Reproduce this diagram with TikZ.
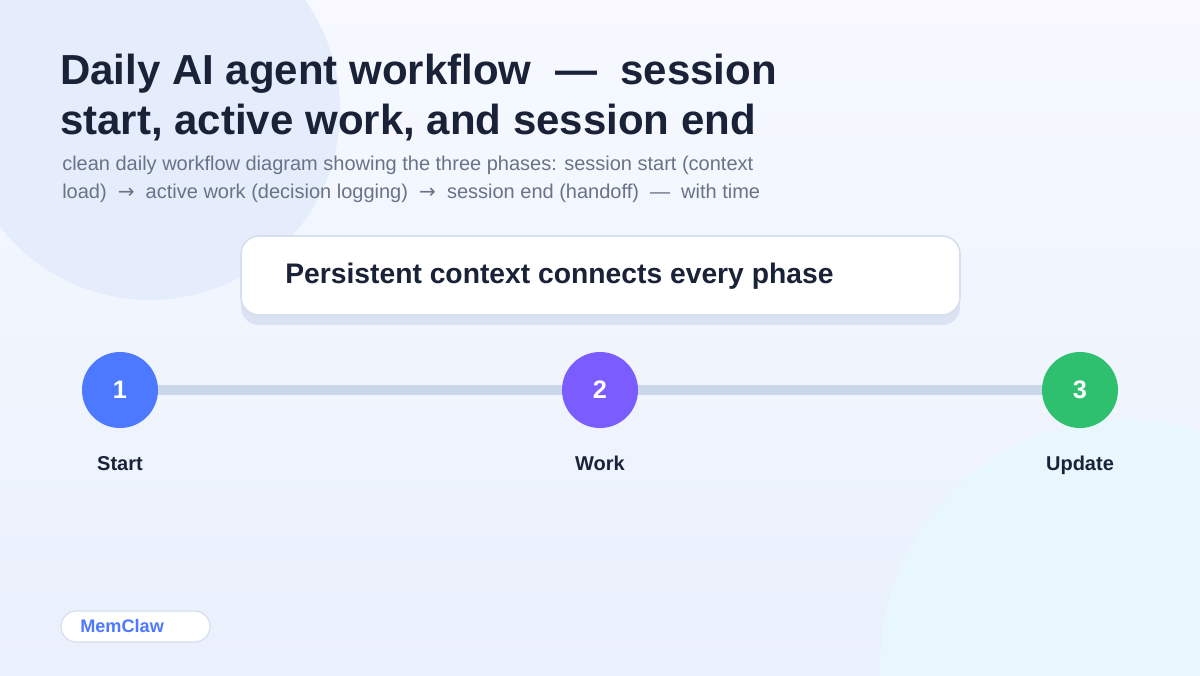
\documentclass[tikz,border=0pt]{standalone}
\usepackage{fontspec}
\setmainfont{Liberation Sans}
\newfontfamily\arrowfont{DejaVu Sans}
\definecolor{bgtop}{HTML}{F6F9FF}
\definecolor{bgbot}{HTML}{EAF0FC}
\definecolor{blobA}{HTML}{E5EDFD}
\definecolor{blobB}{HTML}{E8F7FE}
\definecolor{ink}{HTML}{1A2238}
\definecolor{subink}{HTML}{687385}
\definecolor{boxline}{HTML}{D5DFEE}
\definecolor{shadowc}{HTML}{DAE3F2}
\definecolor{trackc}{HTML}{CAD7E9}
\definecolor{cblue}{HTML}{4C79FF}
\definecolor{cpurple}{HTML}{7B5CFF}
\definecolor{cgreen}{HTML}{2EC06F}
\newcommand{\myarrow}{{\arrowfont\fontsize{15}{18}\selectfont →}}
\tikzset{
  phase/.style={circle,minimum size=57pt,inner sep=0pt,text=white,font=\bfseries\fontsize{19}{21}\selectfont},
  phaselabel/.style={text=ink,font=\bfseries\fontsize{15}{17}\selectfont,anchor=base},
  titletext/.style={anchor=base west,inner sep=0pt,text=ink,font=\bfseries\fontsize{31.5}{38}\selectfont},
  subtext/.style={anchor=base west,inner sep=0pt,text=subink,font=\fontsize{15}{18}\selectfont},
}
\begin{document}
\begin{tikzpicture}[x=0.75pt,y=-0.75pt]
\useasboundingbox (0,0) rectangle (1200,675);
\shade[top color=bgtop,bottom color=bgbot] (0,0) rectangle (1200,675);
\begin{scope}
\clip (0,0) rectangle (1200,675);
\fill[blobA] (150,110) circle (190);
\fill[blobB] (1125,665) circle (245);
\end{scope}
% title
\node[titletext] (t1) at (60,84) {Daily AI agent workflow \ — \ session};
\node[titletext] (t2) at (60,134) {start, active work, and session end};
\node[subtext] (s1) at (62,170) {clean daily workflow diagram showing the three phases: session start (context};
\node[subtext] (s2) at (62,198) {load) \ \myarrow\ \ active work (decision logging) \ \myarrow\ \ session end (handoff) \ — \ with time};
% callout box
\fill[shadowc,rounded corners=13.5pt] (241,246) rectangle (960,325);
\draw[boxline,fill=white,line width=1.2pt,rounded corners=13.5pt] (241,236) rectangle (960,315);
\node[anchor=base west,inner sep=0pt,text=ink,font=\bfseries\fontsize{21.2}{24}\selectfont] (box) at (285,283) {Persistent context connects every phase};
% phases
\node[phase,fill=cblue] (p1) at (120,390) {1};
\node[phase,fill=cpurple] (p2) at (600,390) {2};
\node[phase,fill=cgreen] (p3) at (1080,390) {3};
\draw[trackc,line width=7.5pt] (p1.east) -- (p2.west);
\draw[trackc,line width=7.5pt] (p2.east) -- (p3.west);
\node[phaselabel] (l1) at (120,470) {Start};
\node[phaselabel] (l2) at (600,470) {Work};
\node[phaselabel] (l3) at (1080,470) {Update};
% badge
\draw[boxline,fill=white,line width=0.9pt,rounded corners=11.6pt] (61,611) rectangle (210,642);
\node[anchor=base west,inner sep=0pt,text=cblue,font=\bfseries\fontsize{13.6}{16}\selectfont] (badge) at (80,632) {MemClaw};
\end{tikzpicture}
\end{document}
